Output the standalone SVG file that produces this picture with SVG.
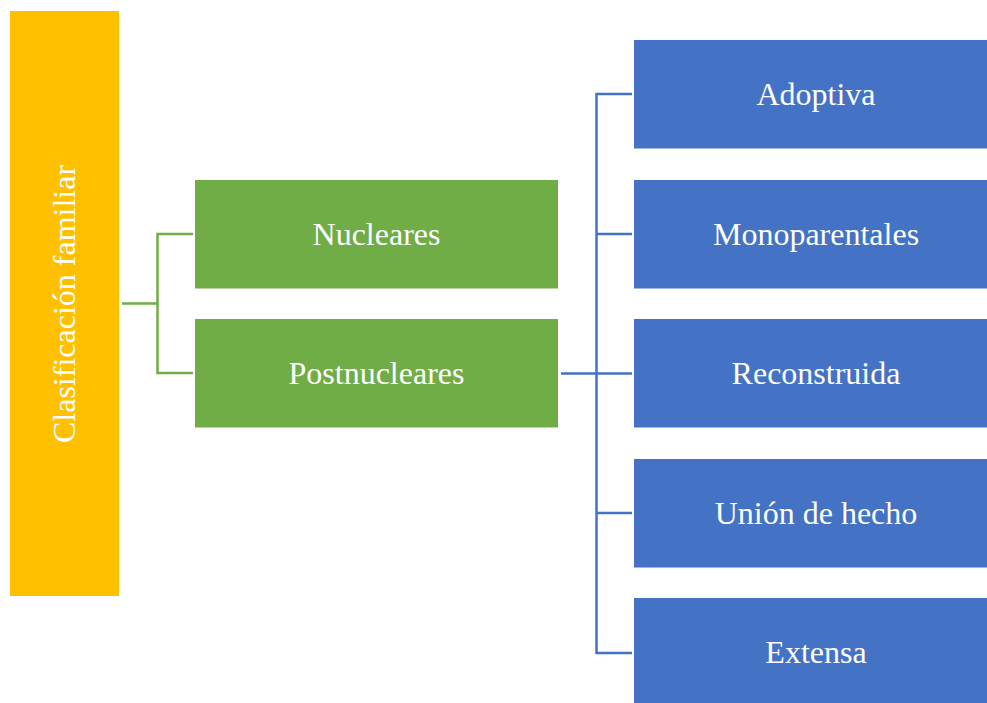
<svg xmlns="http://www.w3.org/2000/svg" width="987" height="703" viewBox="0 0 987 703">
<style>
.t{font-family:"Liberation Serif","Times New Roman",serif;font-size:32px;fill:#fff;text-anchor:middle}
.g{fill:#70AD47}
.b{fill:#4472C4}
.cg{stroke:#70AD47;stroke-width:2.5;fill:none}
.cb{stroke:#4472C4;stroke-width:2.5;fill:none}
</style>
<rect width="987" height="703" fill="#fff"/>
<g id="connectors">
<path class="cg" d="M122 303.5H157.5M157.5 234V373M156.3 234H193M156.3 373H193"/>
<path class="cb" d="M561 373.5H632M596.5 94V653M595.3 94H632M595.3 234H632M595.3 513H632M595.3 653H632"/>
</g>
<g id="root"><rect x="10" y="11" width="109" height="585" fill="#FFC000"/><text class="t" transform="translate(75 304) rotate(-90)">Clasificación familiar</text></g>
<g id="nucleares"><rect class="g" x="195" y="180" width="363" height="108.5"/><text class="t" x="376.5" y="244.5">Nucleares</text></g>
<g id="postnucleares"><rect class="g" x="195" y="319" width="363" height="108.5"/><text class="t" x="376.5" y="383.5">Postnucleares</text></g>
<g id="adoptiva"><rect class="b" x="634" y="40" width="353" height="108.5"/><text class="t" x="816" y="104.5">Adoptiva</text></g>
<g id="monoparentales"><rect class="b" x="634" y="180" width="353" height="108.5"/><text class="t" x="816" y="244.5">Monoparentales</text></g>
<g id="reconstruida"><rect class="b" x="634" y="319" width="353" height="108.5"/><text class="t" x="816" y="383.5">Reconstruida</text></g>
<g id="union"><rect class="b" x="634" y="459" width="353" height="108.5"/><text class="t" x="816" y="523.5">Unión de hecho</text></g>
<g id="extensa"><rect class="b" x="634" y="598" width="353" height="108.5"/><text class="t" x="816" y="662.5">Extensa</text></g>
</svg>
